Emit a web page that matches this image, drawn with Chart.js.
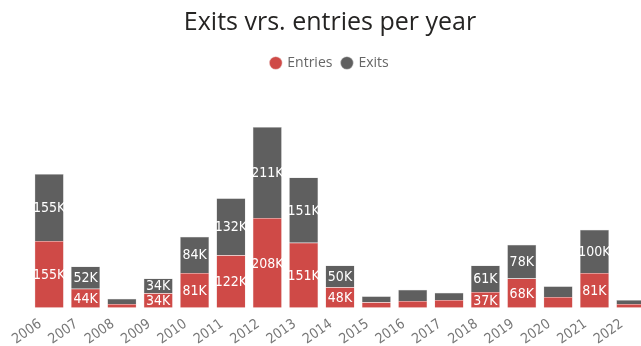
<!DOCTYPE html>
<html lang="en">
<head>
  <meta charset="UTF-8">
  <title>Exits vrs. entries per year</title>
  <script src="https://cdn.jsdelivr.net/npm/chart.js"></script>
  <style>
    html, body { margin: 0; padding: 0; background: #fff; overflow: hidden; }
    #wrap { width: 660px; height: 346px; }
  </style>
</head>
<body>
  <div id="wrap">
    <canvas id="exitsChart" width="660" height="346"></canvas>
  </div>

  <script>
    // Values in thousands
    const years = ['2006', '2007', '2008', '2009', '2010', '2011', '2012', '2013', '2014',
                   '2015', '2016', '2017', '2018', '2019', '2020', '2021', '2022'];
    const entries = [155, 44, 9, 34, 81, 122, 208, 151, 48, 13, 16, 18, 37, 68, 25, 81, 9];
    const exits = [155, 52, 12, 34, 84, 132, 211, 151, 50, 14, 26, 17, 61, 78, 25, 100, 9];

    // draws the "155K" style labels inside the bigger segments
    const segmentLabels = {
      id: 'segmentLabels',
      afterDatasetsDraw(chart) {
        const ctx = chart.ctx;
        ctx.save();
        ctx.font = '14px "DejaVu Sans Condensed", "DejaVu Sans", sans-serif';
        ctx.fillStyle = '#ffffff';
        ctx.textAlign = 'center';
        ctx.textBaseline = 'middle';
        chart.data.datasets.forEach((ds, i) => {
          const meta = chart.getDatasetMeta(i);
          meta.data.forEach((bar, j) => {
            const v = ds.data[j];
            if (v < 30) return;
            ctx.fillText(v + 'K', bar.x, (bar.y + bar.base) / 2 + 1);
          });
        });
        ctx.restore();
      }
    };

    // extra space under the legend
    const legendGap = {
      id: 'legendGap',
      beforeInit(chart) {
        const origFit = chart.legend.fit;
        chart.legend.fit = function fit() {
          origFit.bind(chart.legend)();
          this.height += 38;
        };
      }
    };

    const ctx = document.getElementById('exitsChart').getContext('2d');
    new Chart(ctx, {
      type: 'bar',
      data: {
        labels: years,
        datasets: [
          {
            label: 'Entries',
            data: entries,
            backgroundColor: '#cf4a47',
            borderColor: '#e8c9c8',
            borderWidth: 0.5,
            categoryPercentage: 1,
            barPercentage: 0.8
          },
          {
            label: 'Exits',
            data: exits,
            backgroundColor: '#5f5f5f',
            borderColor: '#cfcfcf',
            borderWidth: 0.5,
            categoryPercentage: 1,
            barPercentage: 0.8
          }
        ]
      },
      options: {
        responsive: false,
        animation: false,
        layout: { padding: { left: 11, right: 11, top: 0, bottom: 0 } },
        scales: {
          x: {
            stacked: true,
            grid: { display: false },
            border: { display: false },
            ticks: {
              color: '#777777',
              font: { family: '"DejaVu Sans Condensed", "DejaVu Sans", sans-serif', size: 14 },
              minRotation: 35,
              maxRotation: 35,
              labelOffset: -9,
              padding: 0
            },
            afterFit(scale) { scale.height -= 2; }
          },
          y: {
            stacked: true,
            min: 0,
            max: 440,
            grid: { display: false },
            border: { display: false },
            ticks: { display: false },
            afterFit(scale) { scale.width = 20; }
          }
        },
        plugins: {
          title: {
            display: true,
            text: 'Exits vrs. entries per year',
            color: '#252423',
            font: { family: '"Open Sans", sans-serif', size: 25, weight: 'normal' },
            padding: { top: 8, bottom: 8 }
          },
          legend: {
            display: true,
            labels: {
              usePointStyle: true,
              pointStyle: 'circle',
              boxWidth: 9,
              boxHeight: 9,
              color: '#666666',
              padding: 10,
              font: { family: '"Open Sans", sans-serif', size: 14 }
            }
          },
          tooltip: { enabled: false }
        }
      },
      plugins: [segmentLabels, legendGap]
    });
  </script>
</body>
</html>
